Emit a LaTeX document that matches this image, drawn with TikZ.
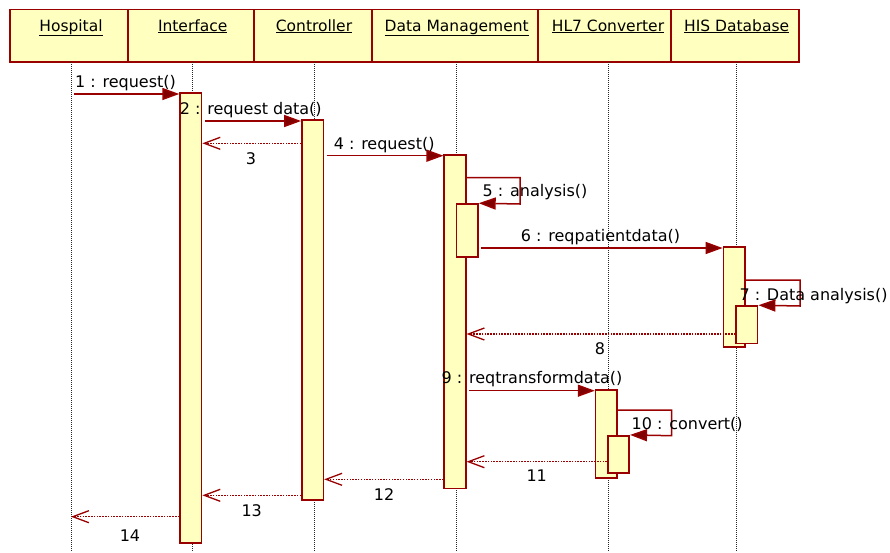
\documentclass[tikz,border=0pt]{standalone}
\usepackage{fontspec}
\setmainfont{DejaVu Sans}
\usetikzlibrary{arrows.meta}
\definecolor{dred}{HTML}{990000}
\definecolor{tipred}{HTML}{800000}
\definecolor{yfill}{HTML}{FFFFBF}
\tikzset{
  hdrbox/.style={draw=dred, fill=yfill, line width=1.6pt, rectangle, inner sep=0pt, minimum height=52.5pt},
  hdrtext/.style={anchor=base, inner sep=0pt, font=\fontsize{15.5}{18}\selectfont},
  lifeline/.style={draw=black!85, line width=0.9pt, dash pattern=on 1pt off 1pt},
  actbox/.style={draw=dred, fill=yfill, line width=1.6pt, rectangle, inner sep=0pt, minimum width=21.5pt},
  msg/.style={draw=dred, line width=1.5pt, -{Triangle[length=17pt,width=12pt,fill=tipred]}, shorten <=2.5pt},
  selfmsg/.style={draw=dred, line width=1.5pt, -{Triangle[length=17pt,width=12pt,fill=tipred]}},
  ret/.style={draw=dred, line width=1.3pt, dash pattern=on 1.5pt off 1.3pt, -{Straight Barb[length=16pt,width=12pt,line width=1.3pt]}},
  lbl/.style={anchor=base, inner sep=0pt, font=\fontsize{16}{19}\selectfont}
}
\begin{document}
\begin{tikzpicture}[x=1pt,y=-1pt]
\useasboundingbox (0,0) rectangle (890,552);
% header boxes
\node[hdrbox, minimum width=118pt] (h1) at (69,35.75) {};
\node[hdrbox, minimum width=126pt] (h2) at (191,35.75) {};
\node[hdrbox, minimum width=118pt] (h3) at (313,35.75) {};
\node[hdrbox, minimum width=166pt] (h4) at (455,35.75) {};
\node[hdrbox, minimum width=132.7pt] (h5) at (604.35,35.75) {};
\node[hdrbox, minimum width=128.3pt] (h6) at (734.85,35.75) {};
\node[hdrtext] (t1) at (71,31) {\underline{Hospital}};
\node[hdrtext] (t2) at (192.7,31) {\underline{Interface}};
\node[hdrtext] (t3) at (314,31) {\underline{Controller}};
\node[hdrtext] (t4) at (456.7,31) {\underline{Data Management}};
\node[hdrtext] (t5) at (608,31) {\underline{HL7 Converter}};
\node[hdrtext] (t6) at (736.7,31) {\underline{HIS Database}};
% lifelines
\coordinate (L1) at (71,62);    \coordinate (L1e) at (71,552);
\coordinate (L2) at (192.7,62); \coordinate (L2e) at (192.7,552);
\coordinate (L3) at (314,62);   \coordinate (L3e) at (314,552);
\coordinate (L4) at (456.7,62); \coordinate (L4e) at (456.7,552);
\coordinate (L5) at (608,62);   \coordinate (L5e) at (608,552);
\coordinate (L6) at (736.7,62); \coordinate (L6e) at (736.7,552);
\draw[lifeline] (L1) -- (L1e);
\draw[lifeline] (L2) -- (L2e);
\draw[lifeline] (L3) -- (L3e);
\draw[lifeline] (L4) -- (L4e);
\draw[lifeline] (L5) -- (L5e);
\draw[lifeline] (L6) -- (L6e);
% activation boxes
\node[actbox, minimum height=450pt] (aI) at (190.85,317.7) {};
\node[actbox, minimum height=380pt] (aC) at (312.65,310) {};
\node[actbox, minimum height=333.3pt] (aD) at (455,321.65) {};
\node[actbox, minimum height=52.7pt] (aD2) at (467.15,230.35) {};
\node[actbox, minimum height=100pt] (aH) at (734.15,296.7) {};
\node[actbox, minimum height=37.3pt] (aH2) at (746.85,324.65) {};
\node[actbox, minimum height=87.7pt] (aL) at (606.35,433.85) {};
\node[actbox, minimum height=37pt] (aL2) at (618.5,454.2) {};
% message heights
\coordinate (y1) at (0,94);
\coordinate (y2) at (0,121);
\coordinate (y3) at (0,143.3);
\coordinate (y4) at (0,155.7);
\coordinate (y5) at (0,177.7);
\coordinate (y6) at (0,248);
\coordinate (y7) at (0,280);
\coordinate (y8) at (0,334);
\coordinate (y9) at (0,390.7);
\coordinate (y10) at (0,410);
\coordinate (y11) at (0,461.7);
\coordinate (y12) at (0,479.3);
\coordinate (y13) at (0,495.3);
\coordinate (y14) at (0,516.7);
\coordinate (r5) at (520,177.7);  \coordinate (r5b) at (520,204);
\coordinate (r7) at (800,280);    \coordinate (r7b) at (800,306);
\coordinate (r10) at (671.7,410); \coordinate (r10b) at (671.7,435.7);
% messages
\draw[msg] (L1 |- y1) -- (aI.west |- y1);
\draw[msg] (aI.east |- y2) -- (aC.west |- y2);
\draw[ret] (aC.west |- y3) -- (aI.east |- y3);
\draw[msg] (aC.east |- y4) -- (aD.west |- y4);
\draw[selfmsg] (aD.east |- y5) -- (r5) -- (r5b) -- (aD2.north east);
\draw[msg] (aD2.east |- y6) -- (aH.west |- y6);
\draw[selfmsg] (aH.east |- y7) -- (r7) -- (r7b) -- (aH2.north east);
\draw[ret] (aH2.west |- y8) -- (aD.east |- y8);
\draw[msg] (aD.east |- y9) -- (aL.west |- y9);
\draw[selfmsg] (aL.east |- y10) -- (r10) -- (r10b) -- (aL2.north east);
\draw[ret] (aL2.west |- y11) -- (aD.east |- y11);
\draw[ret] (aD.west |- y12) -- (aC.east |- y12);
\draw[ret] (aC.west |- y13) -- (aI.east |- y13);
\draw[ret] (aI.west |- y14) -- (L1 |- y14);
% labels
\node[lbl] (l1) at (125.5,87.3) {1 : request()};
\node[lbl] (l2) at (250.8,114.3) {2 : request data()};
\node[lbl] (l3) at (251,164) {3};
\node[lbl] (l4) at (384.2,149.3) {4 : request()};
\node[lbl] (l5) at (535,196.7) {5 : analysis()};
\node[lbl] (l6) at (600.5,241.7) {6 : reqpatientdata()};
\node[lbl] (l7) at (813.5,300) {7 : Data analysis()};
\node[lbl] (l8) at (600,354) {8};
\node[lbl] (l9) at (532,383.3) {9 : reqtransformdata()};
\node[lbl] (l10) at (687.2,429) {10 : convert()};
\node[lbl] (l11) at (536.7,481.7) {11};
\node[lbl] (l12) at (384,500) {12};
\node[lbl] (l13) at (251.7,516) {13};
\node[lbl] (l14) at (130,541) {14};
\end{tikzpicture}
\end{document}
